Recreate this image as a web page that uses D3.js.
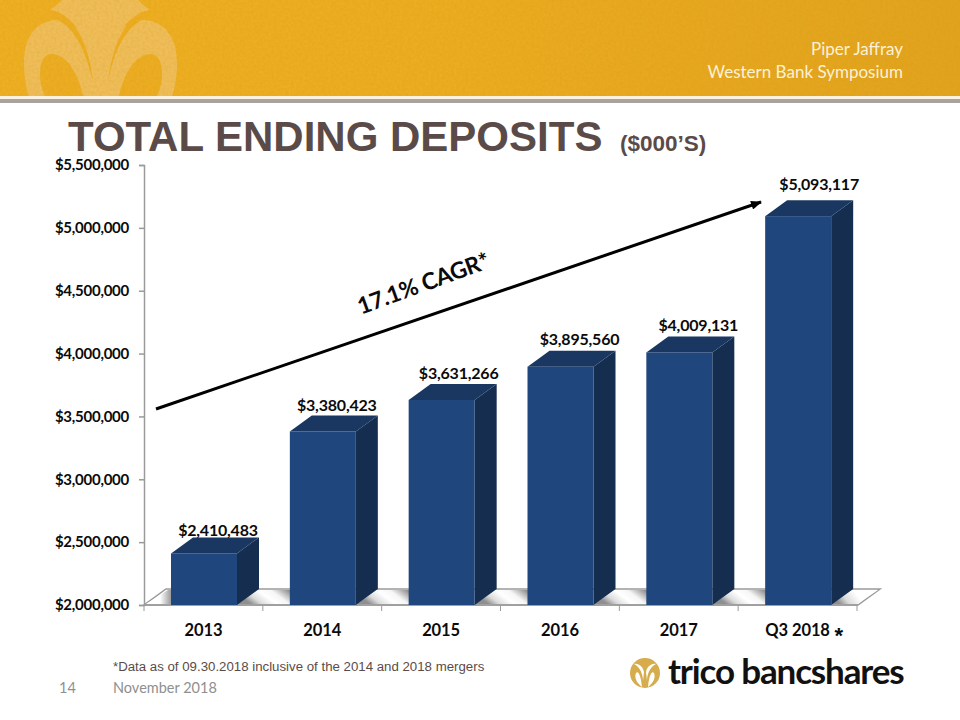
<!DOCTYPE html>
<html><head><meta charset="utf-8">
<style>html,body{margin:0;padding:0;background:#fff}svg{display:block}</style>
<script src="https://cdn.jsdelivr.net/npm/d3@7/dist/d3.min.js"></script>
</head><body><div id="c"></div>
<script>
const categories = ["2013","2014","2015","2016","2017","Q3 2018"];
const values = [2410483,3380423,3631266,3895560,4009131,5093117];
const valueLabels = ["$2,410,483","$3,380,423","$3,631,266","$3,895,560","$4,009,131","$5,093,117"];
const yTicks = [2000000,2500000,3000000,3500000,4000000,4500000,5000000,5500000];
const labelShiftX = [14,14,17,19,19,21];
const labelShiftY = [1,4,5,6,5,10];

const W=960,H=720,depthX=22,depthY=16,barW=66;
const svg=d3.select("#c").append("svg").attr("width",W).attr("height",H);
const defs=svg.append("defs");
const tex=defs.append("filter").attr("id","tex").attr("x",0).attr("y",0).attr("width","100%").attr("height","100%");
tex.append("feTurbulence").attr("type","fractalNoise").attr("baseFrequency",0.35).attr("numOctaves",3).attr("seed",4);
tex.append("feColorMatrix").attr("values","0 0 0 0 0.55  0 0 0 0 0.35  0 0 0 0 0  0 0 0 0.55 -0.17");
const bandGrad=defs.append("linearGradient").attr("id","band");
[[0,"#EFAE24"],[.45,"#EDAC22"],[1,"#E2A21F"]].forEach(d=>bandGrad.append("stop").attr("offset",d[0]).attr("stop-color",d[1]));
defs.append("clipPath").attr("id","hdr").append("rect").attr("width",W).attr("height",96);
const floorGrad=defs.append("linearGradient").attr("id","floorG").attr("x1",0).attr("x2",1).attr("y1",0.25).attr("y2",0);
[[0,"#8f8f8f"],[.14,"#dcdcdc"],[.32,"#ffffff"],[.48,"#f6f6f6"],[.7,"#8f8f8f"]].forEach(d=>floorGrad.append("stop").attr("offset",d[0]).attr("stop-color",d[1]));
const floorFirst=defs.append("linearGradient").attr("id","floorF").attr("x1",0).attr("x2",1).attr("y1",0).attr("y2",0);
[[0,"#ffffff"],[.3,"#ffffff"],[.56,"#8f8f8f"]].forEach(d=>floorFirst.append("stop").attr("offset",d[0]).attr("stop-color",d[1]));
const floorLast=defs.append("linearGradient").attr("id","floorL").attr("x1",0).attr("x2",1).attr("y1",0.25).attr("y2",0);
[[0,"#8f8f8f"],[.2,"#dcdcdc"],[.5,"#ffffff"],[1,"#ffffff"]].forEach(d=>floorLast.append("stop").attr("offset",d[0]).attr("stop-color",d[1]));

// header
svg.append("rect").attr("width",W).attr("height",96).attr("fill","url(#band)");
const wm=svg.append("g").attr("clip-path","url(#hdr)");
wm.append("path").attr("fill","#F0BD5C").attr("d","M24,64 C24,32 40,20 58,20 C66,20 74,24 80,32 C72,20 62,12 50,10 C56,6 60,2 62,0 L138,0 C140,2 144,6 150,10 C138,12 128,20 120,32 C126,24 134,20 142,20 C160,20 177,32 177,64 C177,76 175,88 172,96 L29,96 C26,88 24,76 24,64 Z");
wm.append("path").attr("fill","#EDAC24").attr("d","M50,10 C74,13 90,46 93,82 C86,50 74,28 58,20 C52,16 50,12 50,10 Z");
wm.append("path").attr("fill","#EDAC24").attr("d","M150,10 C126,13 112,46 108,82 C114,50 126,28 142,20 C148,16 150,12 150,10 Z");
wm.append("path").attr("fill","#EDAC24").attr("d","M40,74 C40,62 44,54 51,54 C66,54 78,72 83,96 L45,96 C42,90 40,82 40,74 Z");
wm.append("path").attr("fill","#EDAC24").attr("d","M162,74 C162,62 158,54 151,54 C136,54 124,72 119,96 L157,96 C160,90 162,82 162,74 Z");
svg.append("rect").attr("width",W).attr("height",96).attr("filter","url(#tex)").attr("opacity",0.7);
svg.append("rect").attr("y",96).attr("width",W).attr("height",3).attr("fill","#FBF3E0");
svg.append("rect").attr("y",99).attr("width",W).attr("height",4).attr("fill","#A9A3A0");
const hdr=svg.append("g").attr("font-family","Lato").attr("font-size",17).attr("fill","#FBF1D6").attr("text-anchor","end");
hdr.append("text").attr("x",903).attr("y",55).text("Piper Jaffray");
hdr.append("text").attr("x",903).attr("y",78).text("Western Bank Symposium");

// title
svg.append("text").attr("x",68).attr("y",151).attr("font-family","Liberation Sans").attr("font-weight",700).attr("font-size",42).attr("fill","#5B4B48").text("TOTAL ENDING DEPOSITS");
svg.append("text").attr("x",620).attr("y",151).attr("font-family","Liberation Sans").attr("font-weight",700).attr("font-size",22.5).attr("fill","#5B4B48").text("($000’S)");

// scales
const y=d3.scaleLinear().domain([2000000,5500000]).range([605,165]);
const x=d3.scaleBand().domain(categories).range([144,857]).padding(0);
const barOffset=27;
const y0=y.range()[0];

// floor
svg.append("path").attr("fill","#fff").attr("stroke","#9a9a9a").attr("stroke-width",1.5)
 .attr("d",`M144,${y0} L858,${y0} L${858+depthX},${y0-depthY} L${144+depthX},${y0-depthY} Z`);
const gaps=categories.map(c=>x(c));
svg.append("g").selectAll("path").data(gaps).join("path").attr("fill",(d,i)=>i===0?"url(#floorF)":"url(#floorG)")
 .attr("d",(d,i)=>{
   const left=i===0?d+2:d-x.bandwidth()+barOffset+barW;
   const right=d+barOffset;
   return `M${left},${y0-1} L${right},${y0-1} L${right+depthX},${y0-depthY+1} L${left+depthX},${y0-depthY+1} Z`;
 });
const lastRight=x(categories[categories.length-1])+barOffset+barW;
svg.append("path").attr("fill","url(#floorL)")
 .attr("d",`M${lastRight},${y0-1} L857,${y0-1} L${857+depthX-1},${y0-depthY+1} L${lastRight+depthX},${y0-depthY+1} Z`);

// axes
const ax=svg.append("g").attr("transform","translate(144,0)")
 .call(d3.axisLeft(y).tickValues(yTicks).tickFormat(d3.format("$,")).tickSize(5).tickPadding(10));
const ab=svg.append("g").attr("transform",`translate(0,${y0})`)
 .call(d3.axisBottom(x).tickSize(0).tickPadding(19));
ab.selectAll(".tick line").remove();
ab.select(".domain").attr("d",`M144,0 L858,0`);
svg.append("g").selectAll("line").data([...categories.map(c=>x(c)),x.range()[1]]).join("line")
 .attr("x1",d=>d).attr("x2",d=>d).attr("y1",y0).attr("y2",y0+6).attr("stroke","#9a9a9a");
[ax,ab].forEach(a=>{a.selectAll(".domain,.tick line").attr("stroke","#9a9a9a").attr("stroke-width",1.5);
 a.selectAll("text").attr("font-family","Lato").attr("font-weight",700).attr("font-size",15).attr("letter-spacing",-0.25).attr("fill","#0b0b0b");});
ab.selectAll("text").attr("font-size",16.5).attr("letter-spacing",-0.1);
svg.append("text").attr("x",x(categories[5])+x.bandwidth()/2+37).attr("y",643)
 .attr("font-family","Liberation Sans").attr("font-weight",700).attr("font-size",22).attr("fill","#0b0b0b").text("*");

// bars
const bars=svg.append("g").selectAll("g").data(categories.map((c,i)=>({c,v:values[i],l:valueLabels[i],i}))).join("g");
const bx=d=>x(d.c)+barOffset;
bars.append("path").attr("fill","#152D4F").attr("d",d=>{const l=bx(d)+barW,t=y(d.v);
  return `M${l},${t} L${l+depthX},${t-depthY} L${l+depthX},${y0-depthY} L${l},${y0} Z`;});
bars.append("path").attr("fill","#1A3761").attr("d",d=>{const l=bx(d),t=y(d.v);
  return `M${l},${t} L${l+depthX},${t-depthY} L${l+barW+depthX},${t-depthY} L${l+barW},${t} Z`;});
bars.append("rect").attr("x",bx).attr("y",d=>y(d.v)).attr("width",barW).attr("height",d=>y0-y(d.v)).attr("fill","#1F477D");
bars.append("text").attr("x",d=>bx(d)+barW/2+labelShiftX[d.i]).attr("y",d=>y(d.v)-depthY-labelShiftY[d.i])
 .attr("text-anchor","middle").attr("font-family","Lato").attr("font-weight",700).attr("font-size",16).attr("letter-spacing",-0.2).attr("fill","#0b0b0b").text(d=>d.l);

// CAGR arrow
defs.append("marker").attr("id","ah").attr("markerUnits","userSpaceOnUse").attr("viewBox","0 0 12 10").attr("refX",11).attr("refY",5).attr("markerWidth",12).attr("markerHeight",9).attr("orient","auto")
 .append("path").attr("d","M0,0 L12,5 L0,10 Z").attr("fill","#000");
svg.append("line").attr("x1",156).attr("y1",409).attr("x2",761).attr("y2",202).attr("stroke","#000").attr("stroke-width",3).attr("marker-end","url(#ah)");
svg.append("text").attr("transform","translate(426,291) rotate(-20)").attr("text-anchor","middle").attr("font-family","Lato").attr("font-weight",700).attr("font-size",23).attr("letter-spacing",-0.3).attr("fill","#0b0b0b").text("17.1% CAGR*");

// footer
svg.append("text").attr("x",113).attr("y",671).attr("font-family","Liberation Sans").attr("font-size",13.25).attr("fill","#5B4B48").text("*Data as of 09.30.2018 inclusive of the 2014 and 2018 mergers");
const ft=svg.append("g").attr("font-family","Lato").attr("font-size",14.5).attr("fill","#8f8f8f");
ft.append("text").attr("x",59).attr("y",693).text("14");
ft.append("text").attr("x",113).attr("y",693).text("November 2018");

// logo
const lg=svg.append("g").attr("transform","translate(645,673)");
lg.append("circle").attr("r",15).attr("fill","#D6AC4C");
lg.append("path").attr("fill","#fff").attr("d","M-2,8 C-2,0 -6,-7 -11,-9 C-6,-10 -2,-6 -1,-1 Z M2,8 C2,0 6,-7 11,-9 C6,-10 2,-6 1,-1 Z");
lg.append("path").attr("fill","#fff").attr("d","M-3,14 C-8,10 -11,5 -9,0 C-7,-3 -4,2 -3,14 Z M3,14 C8,10 11,5 9,0 C7,-3 4,2 3,14 Z");
svg.append("text").attr("x",668).attr("y",684).attr("font-family","Lato").attr("font-weight",700).attr("font-size",35).attr("letter-spacing",-1.15).attr("fill","#111").text("trico bancshares");
</script></body></html>
